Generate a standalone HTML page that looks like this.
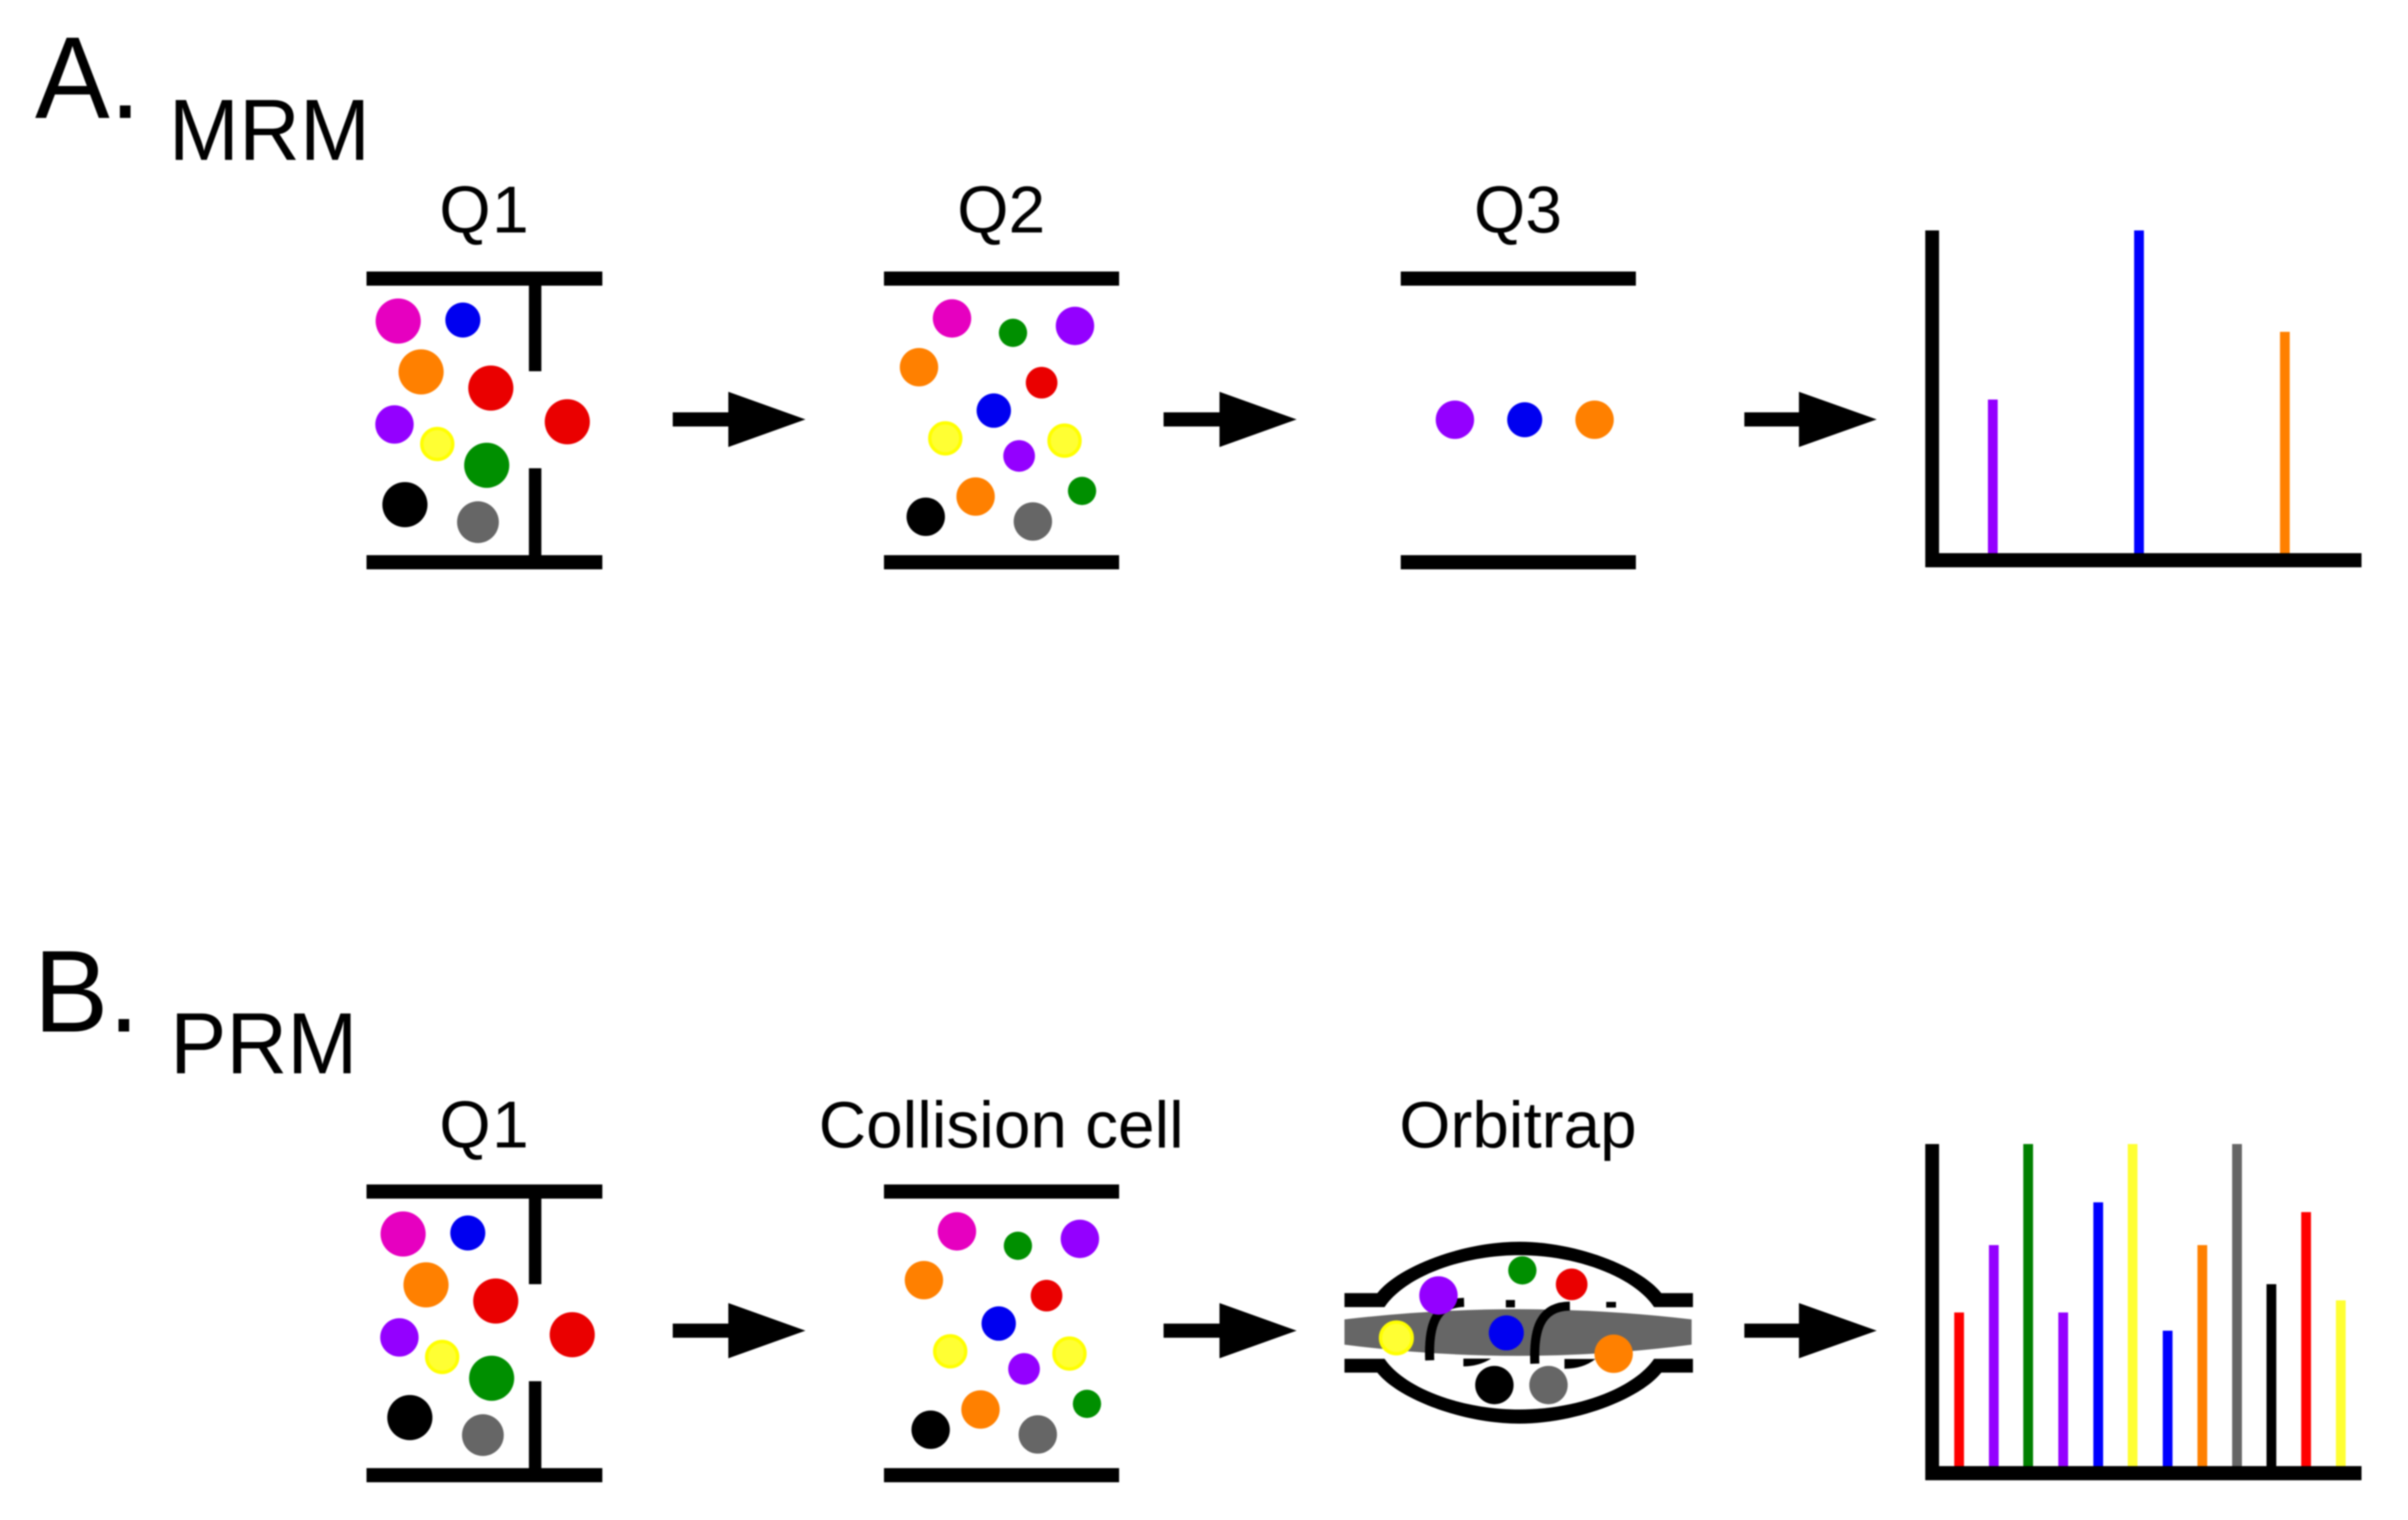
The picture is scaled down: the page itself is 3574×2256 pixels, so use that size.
<!DOCTYPE html>
<html>
<head>
<meta charset="utf-8">
<style>
html,body{margin:0;padding:0;background:#fff;}
svg{display:block;filter:blur(1px);}
text{font-family:"Liberation Sans",Arial,sans-serif;fill:#000;}
.yl{fill:#ffff33;stroke:#ffff00;stroke-width:5;}
</style>
</head>
<body>
<svg xmlns="http://www.w3.org/2000/svg" width="3574" height="2256" viewBox="0 0 3574 2256">
<rect width="3574" height="2256" fill="#fff"/>

<!-- Labels A -->
<text transform="translate(52,175) scale(.96,1)" font-size="173">A.</text>
<text transform="translate(250.5,237.3) scale(.97,1)" font-size="129">MRM</text>
<text x="652" y="345" font-size="98">Q<tspan dx="2">1</tspan></text>
<text x="1486" y="345" font-size="98" text-anchor="middle">Q2</text>
<text x="2253" y="345" font-size="98" text-anchor="middle">Q3</text>

<!-- Labels B -->
<text transform="translate(50,1531) scale(.96,1)" font-size="173">B.</text>
<text transform="translate(252.5,1593) scale(.97,1)" font-size="129">PRM</text>
<text x="652" y="1703" font-size="98">Q<tspan dx="2">1</tspan></text>
<text x="1486" y="1703" font-size="97.5" text-anchor="middle">Collision cell</text>
<text x="2253" y="1703" font-size="97.5" text-anchor="middle">Orbitrap</text>

<!-- Q1 frame -->
<g id="q1frame" fill="#000">
<rect x="544" y="403" width="350" height="21"/>
<rect x="544" y="824" width="350" height="21"/>
<rect x="785" y="403" width="18.5" height="148"/>
<rect x="785" y="695" width="18.5" height="150"/>
</g>
<use href="#q1frame" transform="translate(0,1355)"/>

<!-- Q2 frame -->
<g id="q2frame" fill="#000">
<rect x="1312" y="403" width="349" height="21"/>
<rect x="1312" y="824" width="349" height="21"/>
</g>
<use href="#q2frame" transform="translate(0,1355)"/>

<!-- Q3 frame -->
<rect x="2079" y="403" width="349" height="21" fill="#000"/>
<rect x="2079" y="824" width="349" height="21" fill="#000"/>

<!-- Q1 ions -->
<g id="q1ions">
<circle cx="591" cy="476.5" r="33.5" fill="#e600c0"/>
<circle cx="687" cy="475" r="26" fill="#0000f0"/>
<circle cx="625" cy="552" r="33.5" fill="#ff8000"/>
<circle cx="728.5" cy="576" r="33.5" fill="#ea0000"/>
<circle cx="842" cy="626" r="33.5" fill="#ea0000"/>
<circle cx="585.5" cy="630" r="28.5" fill="#9400ff"/>
<circle cx="649" cy="659" r="23" class="yl"/>
<circle cx="722.4" cy="690.6" r="33.5" fill="#008f00"/>
<circle cx="601" cy="749" r="33.5" fill="#000"/>
<circle cx="709.4" cy="775" r="31" fill="#666"/>
</g>
<use href="#q1ions" transform="translate(7.3,1355)"/>

<!-- Q2 ions -->
<g id="q2ions">
<circle cx="1413" cy="472.6" r="28.5" fill="#e600c0"/>
<circle cx="1503.5" cy="494" r="21" fill="#008f00"/>
<circle cx="1595.5" cy="483.7" r="28.5" fill="#9400ff"/>
<circle cx="1364" cy="545" r="28.5" fill="#ff8000"/>
<circle cx="1546" cy="568" r="23.5" fill="#ea0000"/>
<circle cx="1475" cy="609.4" r="25.5" fill="#0000f0"/>
<circle cx="1403" cy="650.6" r="23" class="yl"/>
<circle cx="1580" cy="654" r="23" class="yl"/>
<circle cx="1512.6" cy="676.7" r="23.5" fill="#9400ff"/>
<circle cx="1448" cy="737" r="28.5" fill="#ff8000"/>
<circle cx="1606" cy="728.6" r="21" fill="#008f00"/>
<circle cx="1374" cy="767" r="28.5" fill="#000"/>
<circle cx="1533" cy="774" r="28.5" fill="#666"/>
</g>
<use href="#q2ions" transform="translate(7.3,1355)"/>

<!-- Q3 ions -->
<circle cx="2159.4" cy="623" r="28.5" fill="#9400ff"/>
<circle cx="2263" cy="623" r="26" fill="#0000f0"/>
<circle cx="2366.7" cy="623" r="28.5" fill="#ff8000"/>

<!-- Arrows -->
<g id="arrows" fill="#000">
<polygon points="998.5,612 1081,612 1081,581.5 1195.5,622.5 1081,663.5 1081,633 998.5,633"/>
<polygon points="1727,612 1810,612 1810,581.5 1924.5,622.5 1810,663.5 1810,633 1727,633"/>
<polygon points="2589,612 2670,612 2670,581.5 2785.5,622.5 2670,663.5 2670,633 2589,633"/>
</g>
<use href="#arrows" transform="translate(0,1352.5)"/>

<!-- Spectrum A -->
<rect x="2950.5" y="593" width="14.5" height="235" fill="#9400ff"/>
<rect x="3167.5" y="342" width="14.5" height="486" fill="#0000ff"/>
<rect x="3384" y="492.5" width="14.5" height="335" fill="#ff8000"/>
<rect x="2857.5" y="342" width="20.5" height="500" fill="#000"/>
<rect x="2857.5" y="821" width="647.5" height="21" fill="#000"/>

<!-- Spectrum B -->
<rect x="2900.5" y="1948" width="14.5" height="235" fill="#ff0000"/>
<rect x="2952" y="1848" width="14.5" height="335" fill="#9400ff"/>
<rect x="3003" y="1698" width="14.5" height="485" fill="#008000"/>
<rect x="3055" y="1948" width="14.5" height="235" fill="#9400ff"/>
<rect x="3107" y="1784.5" width="14.5" height="398" fill="#0000ff"/>
<rect x="3158" y="1698" width="14.5" height="485" fill="#ffff33"/>
<rect x="3210" y="1975" width="14.5" height="208" fill="#0000ff"/>
<rect x="3261.5" y="1848" width="14.5" height="335" fill="#ff8000"/>
<rect x="3313" y="1698" width="14.5" height="485" fill="#666"/>
<rect x="3364" y="1906" width="14.5" height="277" fill="#000"/>
<rect x="3415.5" y="1799" width="14.5" height="384" fill="#ff0000"/>
<rect x="3467" y="1930" width="14.5" height="253" fill="#ffff33"/>
<rect x="2857.5" y="1698" width="20.5" height="499" fill="#000"/>
<rect x="2857.5" y="2176" width="647.5" height="21" fill="#000"/>

<!-- Orbitrap -->
<path d="M1995.5 1919.3H2044.3C2075 1880 2170 1843 2255 1843C2340 1843 2435 1880 2465.7 1919.3H2512.7V1940H2455C2425 1895 2340 1863 2255 1863C2170 1863 2085 1895 2055 1940H1995.5Z" fill="#000"/>
<path d="M1995.5 2016.7H2055C2085 2061 2170 2092 2255 2092C2340 2092 2425 2061 2455 2016.7H2512.7V2037.3H2465.7C2435 2076 2340 2113 2255 2113C2170 2113 2075 2076 2044.3 2037.3H1995.5Z" fill="#000"/>
<path d="M1995.5 1958.3Q2254 1928 2510.7 1958.3V1995.7Q2254 2029 1995.5 1995.7Z" fill="#666"/>
<path d="M2122 2019C2120 1970 2129 1934 2173 1933" fill="none" stroke="#000" stroke-width="13.5"/>
<path d="M2278 2024C2276 1975 2285 1939 2330 1938.5" fill="none" stroke="#000" stroke-width="13.5"/>
<rect x="2235" y="1929.5" width="13.5" height="11" fill="#000"/>
<rect x="2384" y="1932.3" width="14.5" height="8.4" fill="#000"/>
<path d="M2172 2016.5H2213Q2195 2028 2172 2028Z" fill="#000"/>
<path d="M2322 2017H2368Q2350 2031.5 2322 2031.5Z" fill="#000"/>
<circle cx="2135" cy="1922.7" r="28.5" fill="#9400ff"/>
<circle cx="2259.5" cy="1885.5" r="21" fill="#008f00"/>
<circle cx="2332.7" cy="1906.3" r="23.5" fill="#ea0000"/>
<circle cx="2072.5" cy="1985.7" r="23.5" class="yl"/>
<circle cx="2235.7" cy="1978.3" r="26" fill="#0000f0"/>
<circle cx="2395" cy="2009.3" r="28.5" fill="#ff8000"/>
<circle cx="2218" cy="2055.7" r="28.5" fill="#000"/>
<circle cx="2298.3" cy="2055.7" r="28.5" fill="#666"/>
</svg>
</body>
</html>
